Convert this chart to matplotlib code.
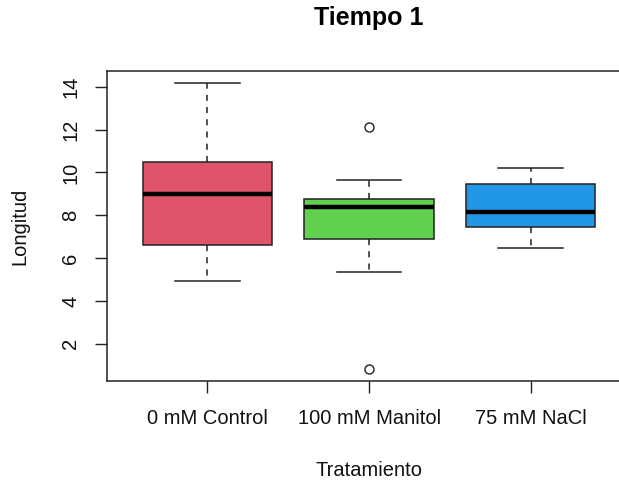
import matplotlib
matplotlib.use("Agg")
from matplotlib import pyplot as plt

plt.rcParams['font.family'] = ['Liberation Sans', 'DejaVu Sans']

# datos (resumen de cada caja)
tratamientos = ["0 mM Control", "100 mM Manitol", "75 mM NaCl"]
bigote_inf = [4.92, 5.36, 6.46]
q1 = [6.60, 6.90, 7.47]
mediana = [9.01, 8.39, 8.14]
q3 = [10.50, 8.76, 9.45]
bigote_sup = [14.16, 9.63, 10.19]
atipicos = [[], [12.11, 0.82], []]
colores = ["#DF536B", "#61D04F", "#2297E6"]

stats = []
for i in range(len(tratamientos)):
	stats.append({"label": tratamientos[i], "whislo": bigote_inf[i], "q1": q1[i],
				  "med": mediana[i], "q3": q3[i], "whishi": bigote_sup[i],
				  "fliers": atipicos[i]})

fig = plt.figure(figsize=(6.19, 4.83), dpi=100)
ax = fig.add_axes([0.1733, 0.2112, 0.846, 0.6412])

bp = ax.bxp(stats, positions=[1, 2, 3], widths=0.8, patch_artist=True,
			boxprops=dict(edgecolor="#222222", linewidth=1.1),
			medianprops=dict(color="black", linewidth=3.2, solid_capstyle="butt"),
			whiskerprops=dict(color="#222222", linewidth=1.1, linestyle=(0, (4, 4))),
			capprops=dict(color="#222222", linewidth=1.1),
			flierprops=dict(marker="o", markersize=6.5, markerfacecolor="white",
							markeredgecolor="#222222", markeredgewidth=1.0),
			capwidths=0.4)
for caja, c in zip(bp["boxes"], colores):
	caja.set_facecolor(c)

ax.set_xlim(0.38, 3.62)
ax.set_ylim(0.27, 14.72)
ax.set_yticks([2, 4, 6, 8, 10, 12, 14])
ax.set_xticks([1, 2, 3])
ax.set_xticklabels(tratamientos)

for s in ax.spines.values():
	s.set_color("#222222")
	s.set_linewidth(1.1)

ax.tick_params(axis="both", length=8.4, width=1.0, color="#222222", labelsize=14.5,
			   labelcolor="#111111")
ax.tick_params(axis="x", pad=12)
ax.tick_params(axis="y", pad=11)
for lab in ax.get_yticklabels():
	lab.set_rotation(90)
	lab.set_verticalalignment("center")

ax.set_title("Tiempo 1", fontsize=18, fontweight="bold", pad=33)
ax.set_xlabel("Tratamiento", fontsize=14.5, color="#111111")
ax.set_ylabel("Longitud", fontsize=14.5, color="#111111")
ax.xaxis.set_label_coords(369 / 619, 1 - 470 / 483, transform=fig.transFigure)
ax.yaxis.set_label_coords(20 / 619, 1 - 226 / 483, transform=fig.transFigure)
ax.xaxis.label.set_verticalalignment("center")
ax.yaxis.label.set_verticalalignment("center")

fig.savefig("out.png", dpi=100)
